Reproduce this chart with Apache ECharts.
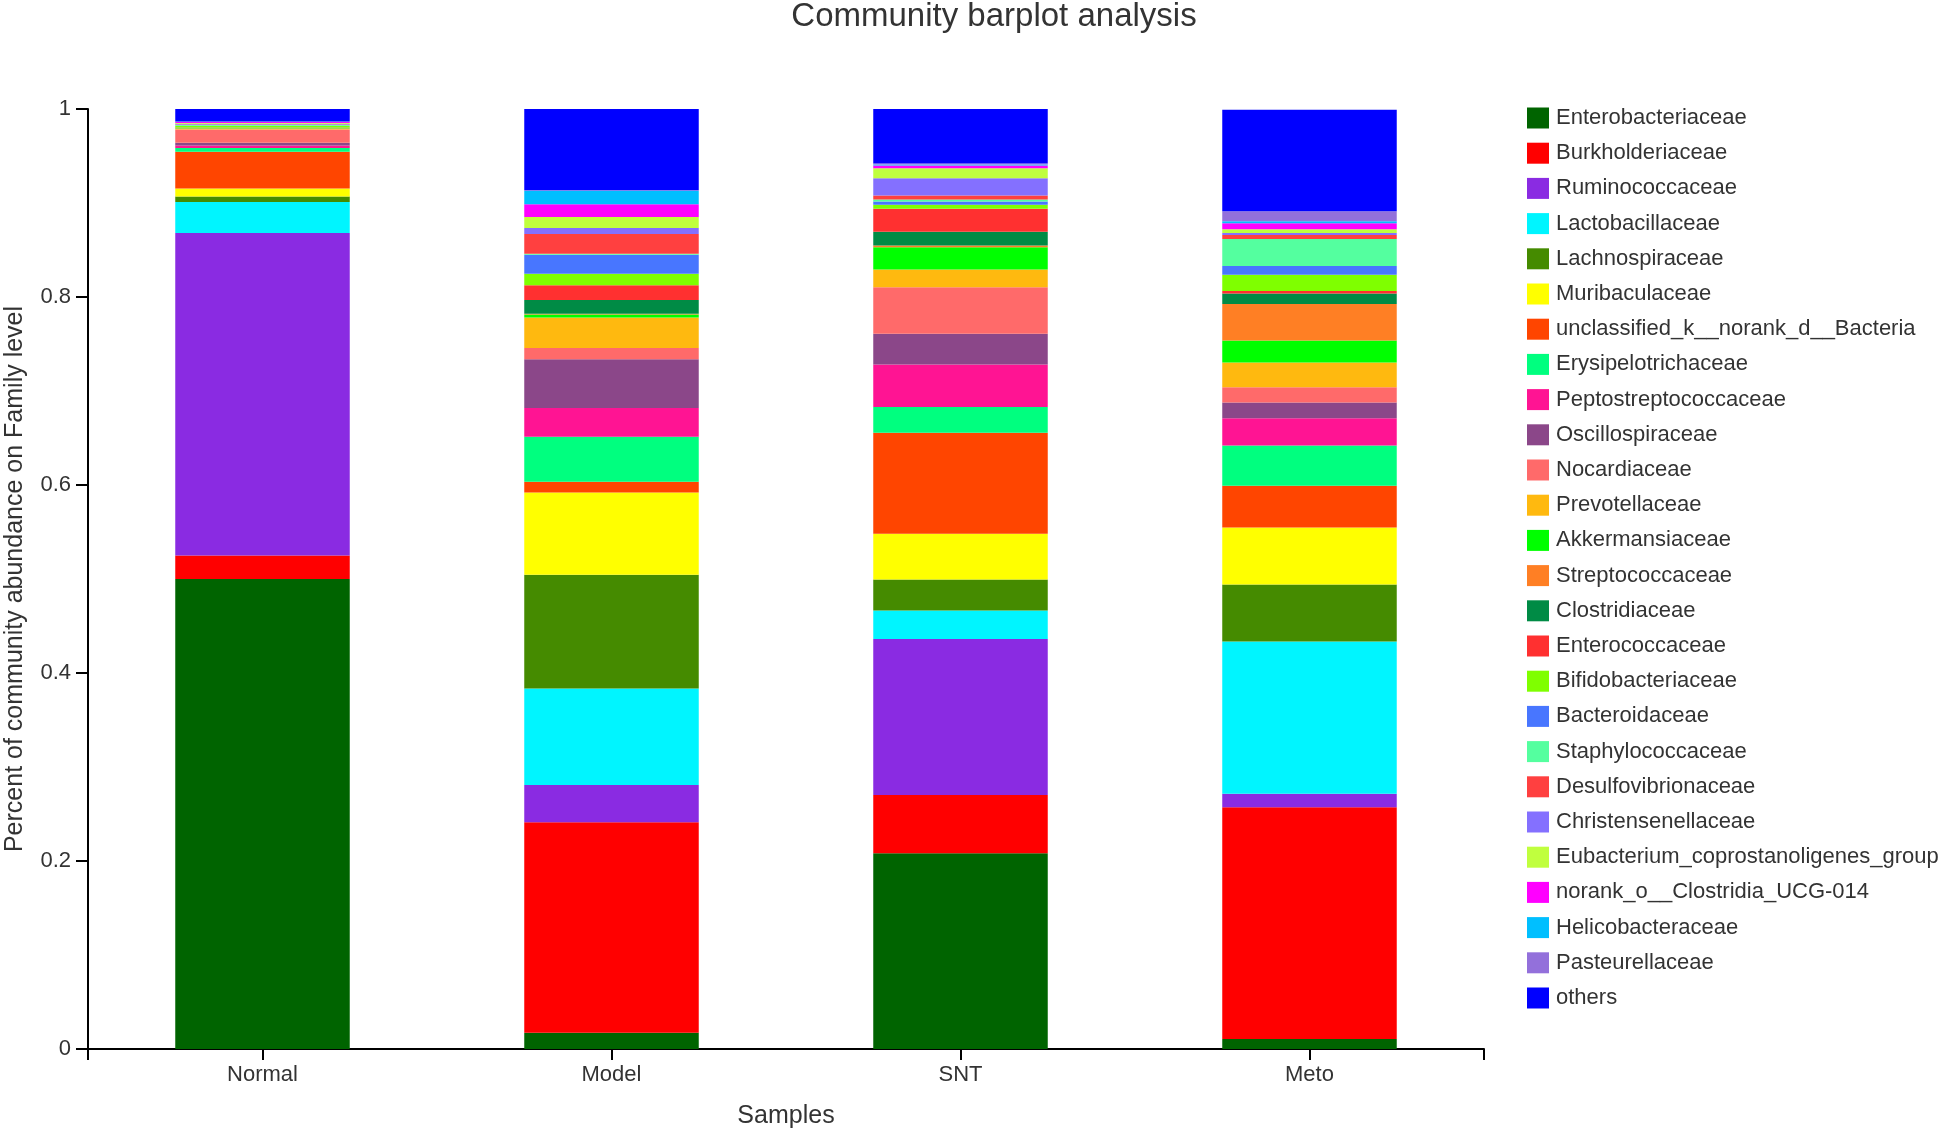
<!DOCTYPE html>
<html><head><meta charset="utf-8">
<script src="https://cdn.jsdelivr.net/npm/echarts@6/dist/echarts.min.js"></script>
<style>html,body{margin:0;padding:0;background:#fff}#c{width:1944px;height:1129px}</style>
</head><body><div id="c"></div>
<script>
const samples = ['Normal', 'Model', 'SNT', 'Meto'];
const families = [
  'Enterobacteriaceae', 'Burkholderiaceae', 'Ruminococcaceae', 'Lactobacillaceae',
  'Lachnospiraceae', 'Muribaculaceae', 'unclassified_k__norank_d__Bacteria',
  'Erysipelotrichaceae', 'Peptostreptococcaceae', 'Oscillospiraceae', 'Nocardiaceae',
  'Prevotellaceae', 'Akkermansiaceae', 'Streptococcaceae', 'Clostridiaceae',
  'Enterococcaceae', 'Bifidobacteriaceae', 'Bacteroidaceae', 'Staphylococcaceae',
  'Desulfovibrionaceae', 'Christensenellaceae', 'Eubacterium_coprostanoligenes_group',
  'norank_o__Clostridia_UCG-014', 'Helicobacteraceae', 'Pasteurellaceae', 'others'
];
// abundance per family (same order as families)
const normalValues = [0.500, 0.025, 0.343, 0.033, 0.006, 0.0085, 0.039, 0.004, 0.0028, 0.0028, 0.0142, 0.0008, 0.0003, 0.0003, 0.0003, 0.0003, 0.0015, 0.0003, 0.001, 0.0003, 0.0008, 0.0008, 0.0012, 0.0002, 0.0002, 0.0135];
const modelValues  = [0.0172, 0.224, 0.0396, 0.1028, 0.121, 0.0875, 0.0113, 0.0478, 0.0308, 0.0517, 0.012, 0.0326, 0.003, 0.001, 0.0145, 0.0156, 0.0124, 0.0202, 0.001, 0.0209, 0.0064, 0.0117, 0.0138, 0.0142, 0.0005, 0.0864];
const sntValues    = [0.2083, 0.0619, 0.166, 0.0303, 0.033, 0.0487, 0.1074, 0.0273, 0.0454, 0.0326, 0.0496, 0.0188, 0.0237, 0.0018, 0.0145, 0.0245, 0.0043, 0.0035, 0.002, 0.0044, 0.0184, 0.0106, 0.003, 0.001, 0.001, 0.058];
const metoValues   = [0.0106, 0.2466, 0.0143, 0.1621, 0.0606, 0.0605, 0.0444, 0.0428, 0.0291, 0.0167, 0.0163, 0.0262, 0.0234, 0.039, 0.011, 0.0028, 0.0174, 0.0092, 0.0287, 0.0043, 0.002, 0.004, 0.0065, 0.002, 0.0106, 0.1081];
const yTicks = [0, 0.2, 0.4, 0.6, 0.8, 1];

const colors = [
  '#006400', '#FF0000', '#8A2BE2', '#00F5FF', '#458B00', '#FFFF00', '#FF4500',
  '#00FF7F', '#FF1493', '#8B4789', '#FF6A6A', '#FFB90F', '#00FF00', '#FF7F24',
  '#008B45', '#FF3030', '#7FFF00', '#4876FF', '#54FF9F', '#FF4040', '#8470FF',
  '#C0FF3E', '#FF00FF', '#00BFFF', '#9370DB', '#0000FF'
];

const sampleValues = [normalValues, modelValues, sntValues, metoValues];
const FONT = '"Liberation Sans", Arial, sans-serif';

const series = families.map((name, i) => ({
  name: name,
  type: 'bar',
  stack: 'total',
  barWidth: '50%',
  xAxisIndex: 0,
  itemStyle: { color: colors[i] },
  data: sampleValues.map(v => v[i])
}));

const chart = echarts.init(document.getElementById('c'), null, { renderer: 'canvas' });
chart.setOption({
  animation: false,
  backgroundColor: '#fff',
  color: colors,
  textStyle: { fontFamily: FONT },
  title: {
    text: 'Community barplot analysis',
    left: 994,
    textAlign: 'center',
    top: 0,
    padding: 0,
    textStyle: { fontFamily: FONT, fontSize: 33, fontWeight: 'normal', color: '#333' }
  },
  grid: { left: 88, right: 460, top: 109, bottom: 80, containLabel: false, outerBoundsMode: 'none' },
  legend: {
    orient: 'vertical',
    left: 1527,
    top: 107,
    padding: 0,
    itemWidth: 22,
    itemHeight: 21,
    itemGap: 13.2,
    icon: 'rect',
    selectedMode: false,
    textStyle: { fontFamily: FONT, fontSize: 22, color: '#333', lineHeight: 22, padding: [0, 0, 0, 2] },
    data: families
  },
  xAxis: [{
    type: 'category',
    data: samples,
    name: 'Samples',
    nameLocation: 'middle',
    nameGap: 55,
    nameTextStyle: { fontFamily: FONT, fontSize: 25, color: '#333' },
    axisLine: { show: true, lineStyle: { color: '#000', width: 2 } },
    axisTick: { show: true, alignWithLabel: true, length: 11, lineStyle: { color: '#000', width: 2 } },
    axisLabel: { fontFamily: FONT, fontSize: 22, color: '#333', margin: 15 },
    splitLine: { show: false }
  }, {
    type: 'value',
    position: 'bottom',
    min: 0, max: 1, interval: 1,
    axisLine: { show: false },
    axisTick: { show: true, length: 11, lineStyle: { color: '#000', width: 2 } },
    axisLabel: { show: false },
    splitLine: { show: false }
  }],
  yAxis: {
    type: 'value',
    min: yTicks[0],
    max: yTicks[yTicks.length - 1],
    interval: 0.2,
    name: 'Percent of community abundance on Family level',
    nameLocation: 'middle',
    nameGap: 60,
    nameTextStyle: { fontFamily: FONT, fontSize: 25, color: '#333' },
    axisLine: { show: true, lineStyle: { color: '#000', width: 2 } },
    axisTick: { show: true, length: 12, lineStyle: { color: '#000', width: 2 } },
    axisLabel: { fontFamily: FONT, fontSize: 22, color: '#333', margin: 17 },
    splitLine: { show: false }
  },
  series: series
});
</script>
</body></html>
